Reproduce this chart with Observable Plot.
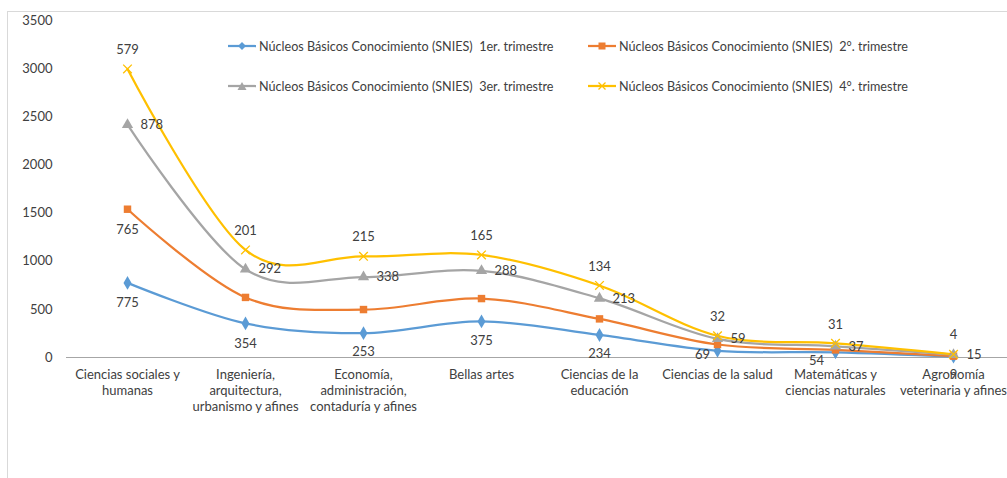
<!DOCTYPE html>
<html><head><meta charset="utf-8">
<script src="https://cdn.jsdelivr.net/npm/d3@7"></script>
<script src="https://cdn.jsdelivr.net/npm/@observablehq/plot@0.6"></script>
<style>
body{margin:0;background:#fff;}
#wrap{position:relative;width:1007px;height:478px;overflow:hidden;font-family:Lato, sans-serif;}
#border{position:absolute;left:7px;top:11px;width:1100px;height:600px;border-left:1px solid #d9d9d9;border-top:1px solid #d9d9d9;}
#chart{position:absolute;left:0;top:0;}
.leg{position:absolute;display:flex;align-items:center;font-size:12.6px;color:#404040;white-space:pre;height:20px;}
.leg svg{margin-right:3px;}
</style></head>
<body><div id="wrap"><div id="border"></div><div id="chart"></div><div id="legend"></div></div>
<script>
const categories = [
  "Ciencias sociales y humanas",
  "Ingeniería, arquitectura, urbanismo y afines",
  "Economía, administración, contaduría y afines",
  "Bellas artes",
  "Ciencias de la educación",
  "Ciencias de la salud",
  "Matemáticas y ciencias naturales",
  "Agronomía veterinaria y afines"
];
const tickLabels = [
  "Ciencias sociales y\nhumanas",
  "Ingeniería,\narquitectura,\nurbanismo y afines",
  "Economía,\nadministración,\ncontaduría y afines",
  "Bellas artes",
  "Ciencias de la\neducación",
  "Ciencias de la salud",
  "Matemáticas y\nciencias naturales",
  "Agronomía\nveterinaria y afines"
];
const seriesNames = [
  "Núcleos Básicos Conocimiento (SNIES)  1er. trimestre",
  "Núcleos Básicos Conocimiento (SNIES)  2°. trimestre",
  "Núcleos Básicos Conocimiento (SNIES)  3er. trimestre",
  "Núcleos Básicos Conocimiento (SNIES)  4°. trimestre"
];
const trimestre1 = [775, 354, 253, 375, 234, 69, 54, 9];
const trimestre2 = [765, 270, 245, 237, 167, 66, 25, 5];
const trimestre3 = [878, 292, 338, 288, 213, 59, 37, 15];
const trimestre4 = [579, 201, 215, 165, 134, 32, 31, 4];
// which data labels are shown (series 2 only shows the first one)
const showLabel2 = [true, false, false, false, false, false, false, false];
const yTicks = [0, 500, 1000, 1500, 2000, 2500, 3000, 3500];

// layout: pixel shifts [dx, dy] of the 1st-series data labels
const label1Shift = [[0, 20], [0, 20], [0, 19], [0, 19], [0, 19], [-15, 4], [-19, 9], [0, 18]];

const colors = ["#5B9BD5", "#ED7D31", "#A5A5A5", "#FFC000"];
const allSeries = [trimestre1, trimestre2, trimestre3, trimestre4];

// build stacked table
const rows = [];
categories.forEach((c, j) => {
  let cum = 0;
  allSeries.forEach((s, i) => {
    cum += s[j];
    rows.push({cat: c, j, series: seriesNames[i], idx: i, value: s[j], top: cum, show: i !== 1 || showLabel2[j]});
  });
});
const bySeries = i => rows.filter(r => r.idx === i);

const txt = {fill: "#404040", fontSize: 13};
const marks = [
  Plot.ruleY([0], {stroke: "#a6a6a6", strokeWidth: 1}),
  Plot.axisY({ticks: yTicks, tickSize: 0, tickPadding: 14, tickFormat: d => String(d), fontSize: 13, fill: "#404040", label: null}),
  Plot.axisX({tickSize: 0, tickPadding: 10, tickFormat: d => tickLabels[categories.indexOf(d)], fontSize: 13, fill: "#404040", lineHeight: 1.23, label: null}),
];
[0,1,2,3].forEach(i => {
  marks.push(Plot.line(bySeries(i), {x: "cat", y: "top", stroke: colors[i], strokeWidth: 2.25, curve: "cardinal"}));
});
marks.push(Plot.dot(bySeries(0), {x: "cat", y: "top", symbol: "diamond", r: 4.2, fill: colors[0]}));
marks.push(Plot.dot(bySeries(1), {x: "cat", y: "top", symbol: "square", r: 4.2, fill: colors[1]}));
marks.push(Plot.dot(bySeries(2), {x: "cat", y: "top", symbol: "triangle", r: 4.2, fill: colors[2]}));
marks.push(Plot.dot(bySeries(3), {x: "cat", y: "top", symbol: "times", r: 4, stroke: colors[3], strokeWidth: 1.3}));
// data labels
bySeries(0).forEach(d => {
  const [dx, dy] = label1Shift[d.j];
  marks.push(Plot.text([d], {x: "cat", y: "top", text: d => String(d.value), dx, dy, ...txt}));
});
marks.push(Plot.text(bySeries(1).filter(d => d.show), {x: "cat", y: "top", text: d => String(d.value), dy: 21, ...txt}));
marks.push(Plot.text(bySeries(2), {x: "cat", y: "top", text: d => String(d.value), dx: 13, textAnchor: "start", ...txt}));
marks.push(Plot.text(bySeries(3), {x: "cat", y: "top", text: d => String(d.value), dy: -19, ...txt}));

const chart = Plot.plot({
  width: 1007, height: 478,
  marginLeft: 66, marginRight: 0, marginTop: 20, marginBottom: 121,
  style: {fontFamily: "Lato, sans-serif", background: "transparent", overflow: "visible"},
  x: {type: "point", domain: categories, range: [66, 1013], padding: 0.5},
  y: {domain: [0, 3500], range: [357, 20]},
  marks
});
document.getElementById("chart").appendChild(chart);

// legend inside plot area
const legPos = [[228, 46], [588, 46], [228, 86], [588, 86]];
const symPaths = [
  c => `<path d="M14,1 L18,5 L14,9 L10,5 Z" fill="${c}"/>`,
  c => `<rect x="10.5" y="1.5" width="7" height="7" fill="${c}"/>`,
  c => `<path d="M14,1 L18.5,9 L9.5,9 Z" fill="${c}"/>`,
  c => `<path d="M10.5,1.5 L17.5,8.5 M17.5,1.5 L10.5,8.5" stroke="${c}" stroke-width="1.3"/>`
];
const leg = document.getElementById("legend");
seriesNames.forEach((n, i) => {
  const d = document.createElement("div");
  d.className = "leg";
  d.style.left = legPos[i][0] + "px";
  d.style.top = (legPos[i][1] - 10) + "px";
  d.innerHTML = `<svg width="28" height="10"><line x1="0" x2="28" y1="5" y2="5" stroke="${colors[i]}" stroke-width="2.25"/>${symPaths[i](colors[i])}</svg><span>${n}</span>`;
  leg.appendChild(d);
});
</script>
</body></html>
